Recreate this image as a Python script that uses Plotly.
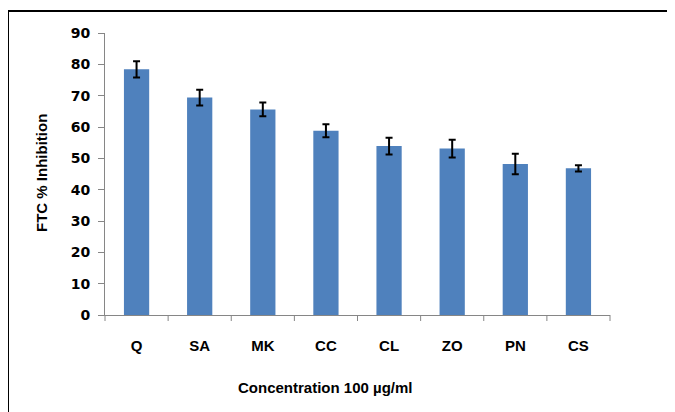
import plotly.graph_objects as go

categories = ["Q", "SA", "MK", "CC", "CL", "ZO", "PN", "CS"]
values = [78.4, 69.4, 65.6, 58.8, 53.9, 53.1, 48.2, 46.8]
errors = [2.6, 2.5, 2.2, 2.1, 2.7, 2.8, 3.3, 1.0]
y_ticks = [0, 10, 20, 30, 40, 50, 60, 70, 80, 90]

# page body has an 8px margin: work in figure coords = screen - 8
OFF = 8
W, H = 675 - OFF, 412 - OFF
L, T = 105 - OFF, 33 - OFF
R = W - (610 - OFF)
B = H - (315 - OFF)
pw, ph = W - L - R, H - T - B

def px(x):
    return (x - OFF - L) / pw

def py(y):
    return (H - B - (y - OFF)) / ph

fnt = "Liberation Sans"

fig = go.Figure(go.Bar(
    x=categories, y=values,
    marker=dict(color="#4F81BD", line=dict(width=0)),
    error_y=dict(type="data", array=errors, visible=True,
                 color="black", thickness=2, width=3.5),
    width=0.4,
))

fig.update_layout(
    width=W, height=H,
    margin=dict(l=L, r=R, t=T, b=B),
    paper_bgcolor="white", plot_bgcolor="white",
    showlegend=False,
    xaxis=dict(showline=True, linecolor="#868686", linewidth=1,
               ticks="outside", ticklen=0, showgrid=False,
               tickfont=dict(family=fnt, size=15, color="black", weight="bold"),
               ticklabelstandoff=17),
    yaxis=dict(range=[0, 90], tickvals=y_ticks, showline=True,
               linecolor="#868686", linewidth=1, ticks="outside",
               tickcolor="#868686", ticklen=6, showgrid=False,
               tickfont=dict(family="DejaVu Sans", size=14, color="black", weight="bold"),
               ticklabelstandoff=5, zeroline=False),
    annotations=[
        dict(text="FTC % Inhibition", textangle=-90, x=px(41), y=py(173),
             xref="paper", yref="paper", showarrow=False,
             xanchor="center", yanchor="middle",
             font=dict(family=fnt, size=15, color="black", weight="bold")),
        dict(text="Concentration 100 µg/ml", x=px(325), y=py(387),
             xref="paper", yref="paper", showarrow=False,
             xanchor="center", yanchor="middle",
             font=dict(family=fnt, size=15, color="black", weight="bold")),
    ],
    shapes=[
        dict(type="line", xref="paper", yref="paper",
             x0=px(7), x1=px(680), y0=py(11), y1=py(11),
             line=dict(color="black", width=2)),
        dict(type="line", xref="paper", yref="paper",
             x0=px(8), x1=px(8), y0=py(11), y1=py(420),
             line=dict(color="black", width=2)),
    ] + [
        dict(type="line", xref="paper", yref="paper",
             x0=(i / len(categories)), x1=(i / len(categories)),
             y0=0, y1=-6 / ph, line=dict(color="#868686", width=1))
        for i in range(len(categories) + 1)
    ],
)

fig.write_html("out.html")
